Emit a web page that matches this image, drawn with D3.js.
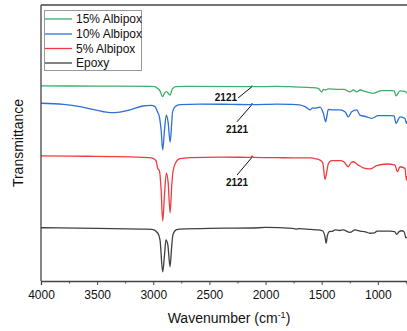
<!DOCTYPE html>
<html>
<head>
<meta charset="utf-8">
<script src="https://cdn.jsdelivr.net/npm/d3@7"></script>
<style>
  html, body { margin: 0; padding: 0; background: #fff; }
  svg { display: block; font-family: "Liberation Sans", Arial, sans-serif; }
</style>
</head>
<body>
<svg id="chart" width="407" height="331"></svg>
<script>
// ---- Data (wavenumber cm^-1, offset transmittance a.u.) ----
const seriesNames = ["15% Albipox", "10% Albipox", "5% Albipox", "Epoxy"];
const seriesColors = ["#3cb06a", "#2f6fd8", "#ef3b3f", "#404040"];

const wnEpoxy =  [4000,3500,3100,3010,2960,2940,2916,2900,2887,2870,2851,2835,2825,2797,2762,2500,2121,2000,1760,1730,1700,1600,1525,1490,1470,1460,1450,1432,1400,1381,1340,1310,1248,1203,1158,1110,1070,1030,1007,950,891,850,832,810,787,765,750,740];
const tEpoxy =   [19.3,19.1,18.8,18.7,17.4,14.9,3.3,9.4,14.9,13.0,5.2,13.0,16.7,18.5,18.8,19.1,19.2,19.4,19.1,18.8,19.0,18.7,18.5,18.1,15.9,13.7,16.3,17.9,18.1,18.5,18.3,18.5,17.6,18.5,18.1,17.8,17.3,17.4,18.1,18.1,18.1,17.9,16.9,17.9,18.2,17.8,15.6,15.9];

const wn5 = [4000,3600,3207,3050,3002,2975,2960,2945,2930,2916,2900,2884,2868,2850,2835,2825,2804,2762,2673,2400,2130,2121,2110,1900,1740,1600,1545,1515,1490,1470,1460,1440,1420,1397,1337,1300,1263,1240,1218,1174,1130,1070,1010,921,847,826,802,758,745,740];
const t5 =  [45.3,45.2,45.0,44.7,44.4,43.5,40.8,39.9,33.0,21.7,31.2,39.1,35.9,24.7,34.8,39.5,42.6,44.3,44.7,44.9,44.8,45.3,44.8,44.7,44.6,44.6,44.2,43.8,42.8,36.8,38.4,42.6,43.5,43.6,43.6,43.1,41.4,42.8,43.2,42.0,41.0,40.6,41.8,42.4,42.0,39.6,41.4,40.8,36.6,38.0];

const wn10 = [4000,3800,3653,3500,3385,3300,3207,3092,3020,2985,2962,2945,2930,2916,2900,2884,2868,2850,2835,2828,2804,2762,2584,2300,2130,2121,2110,1900,1782,1700,1648,1604,1580,1559,1515,1485,1464,1455,1441,1397,1337,1290,1263,1233,1188,1159,1099,1054,996,891,855,838,802,758,745,740];
const t10 =  [64.4,64.0,63.2,61.8,61.0,61.2,62.0,63.4,63.6,63.2,61.2,59.4,54.7,47.5,54.7,60.1,57.6,50.3,57.6,61.3,63.2,63.9,64.1,64.0,63.9,64.3,63.9,64.1,64.0,63.8,63.2,62.0,62.7,62.6,63.0,60.8,57.7,59.4,62.2,62.0,62.0,61.2,59.5,61.3,62.0,60.1,59.5,58.9,59.9,59.9,59.8,57.1,59.5,58.9,57.1,58.0];

const wn15 = [4000,3500,3030,2985,2967,2945,2916,2900,2884,2850,2830,2800,2700,2130,2121,2110,1900,1782,1600,1530,1500,1485,1470,1441,1352,1300,1248,1218,1188,1159,1099,1040,966,877,855,838,802,758,740];
const t15 =  [70.7,70.6,70.5,70.4,69.9,69.2,66.8,68.1,68.6,67.4,69.6,70.4,70.5,70.4,70.7,70.4,70.5,70.4,70.1,69.8,68.5,69.4,69.2,69.6,69.4,69.4,68.5,69.2,68.5,69.2,68.5,68.0,69.0,69.0,68.9,67.1,68.9,68.7,68.0];

// annotations: peak at 2121 on three spectra; label end point in data units
const annoPeak   = [2121, 2121, 2121];
const annoAt     = [70.4, 63.9, 44.8];
const annoEndWn  = [2245, 2254, 2254];
const annoEndT   = [66.3, 57.7, 38.4];
const annoText   = ["2121", "2121", "2121"];

const xTicks = [4000, 3500, 3000, 2500, 2000, 1500, 1000];
const xMinorTicks = [3750, 3250, 2750, 2250, 1750, 1250, 750];

// ---- Layout ----
const svg = d3.select("#chart");
const margin = {left: 41, top: 5, right: 0, bottom: 50};
const W = 407, H = 331;
const x = d3.scaleLinear().domain([4000, 740]).range([margin.left, W - margin.right]);
const y = d3.scaleLinear().domain([0, 100]).range([281, 5]);

const series = [
  {name: seriesNames[0], color: seriesColors[0], wn: wn15, t: t15},
  {name: seriesNames[1], color: seriesColors[1], wn: wn10, t: t10},
  {name: seriesNames[2], color: seriesColors[2], wn: wn5,  t: t5},
  {name: seriesNames[3], color: seriesColors[3], wn: wnEpoxy, t: tEpoxy}
];

const line = d3.line()
  .x(d => x(d[0])).y(d => y(d[1]))
  .curve(d3.curveMonotoneX);

const plot = svg.append("g");
series.slice().reverse().forEach(s => {
  plot.append("path")
    .datum(s.wn.map((w, i) => [w, s.t[i]]))
    .attr("fill", "none")
    .attr("stroke", s.color)
    .attr("stroke-width", 1.3)
    .attr("d", line);
});

// annotations
annoPeak.forEach((p, i) => {
  const x0 = x(p), y0 = y(annoAt[i]);
  const x1 = x(annoEndWn[i]), y1 = y(annoEndT[i]);
  svg.append("line")
    .attr("x1", x0).attr("y1", y0).attr("x2", x1).attr("y2", y1)
    .attr("stroke", "#111").attr("stroke-width", 1);
  const txt = svg.append("text")
    .text(annoText[i])
    .attr("font-size", 10).attr("font-weight", "bold").attr("fill", "#111");
  if (i === 0) {
    txt.attr("x", x1 - 1).attr("y", y1 + 3).attr("text-anchor", "end");
  } else {
    txt.attr("x", x1).attr("y", y1 + 11).attr("text-anchor", "middle");
  }
});

// axes frame
const axisColor = "#444";
const xAxis = d3.axisBottom(x).tickValues(xTicks).tickSize(4).tickPadding(5).tickFormat(d3.format("d"));
const gx = svg.append("g").attr("transform", "translate(0,281)").call(xAxis);
gx.select(".domain").attr("stroke", axisColor).attr("stroke-width", 1.3);
gx.selectAll(".tick line").attr("stroke", axisColor);
gx.selectAll(".tick text").attr("font-size", 12).attr("fill", "#111")
  .attr("font-family", "Liberation Sans, Arial, sans-serif");
const gxm = svg.append("g").attr("transform", "translate(0,281)")
  .call(d3.axisBottom(x).tickValues(xMinorTicks).tickSize(2.5).tickFormat(""));
gxm.select(".domain").remove();
gxm.selectAll(".tick line").attr("stroke", axisColor);

svg.append("line").attr("x1", 41).attr("x2", 41).attr("y1", 5).attr("y2", 281)
  .attr("stroke", axisColor).attr("stroke-width", 1.3);
svg.append("line").attr("x1", 41).attr("x2", W).attr("y1", 5).attr("y2", 5)
  .attr("stroke", axisColor).attr("stroke-width", 1.3);

// axis titles
const xt = svg.append("text").attr("x", 229).attr("y", 323)
  .attr("text-anchor", "middle").attr("font-size", 14).attr("fill", "#111");
xt.append("tspan").text("Wavenumber (cm");
xt.append("tspan").text("-1").attr("font-size", 9).attr("dy", -5);
xt.append("tspan").text(")").attr("dy", 5);

svg.append("text").attr("transform", "translate(23,143) rotate(-90)")
  .attr("text-anchor", "middle").attr("font-size", 14).attr("fill", "#111")
  .text("Transmittance");

// legend
const lg = svg.append("g");
lg.append("rect").attr("x", 44.5).attr("y", 10.5).attr("width", 97).attr("height", 60)
  .attr("fill", "#fff").attr("stroke", "#999").attr("stroke-width", 1);
const rowsY = [19, 34, 48.5, 63];
series.forEach((s, i) => {
  lg.append("line").attr("x1", 45).attr("x2", 72).attr("y1", rowsY[i]).attr("y2", rowsY[i])
    .attr("stroke", s.color).attr("stroke-width", 1.3);
  lg.append("text").attr("x", 76).attr("y", rowsY[i] + 4.3)
    .attr("font-size", 12).attr("fill", "#111").text(s.name);
});
</script>
</body>
</html>
